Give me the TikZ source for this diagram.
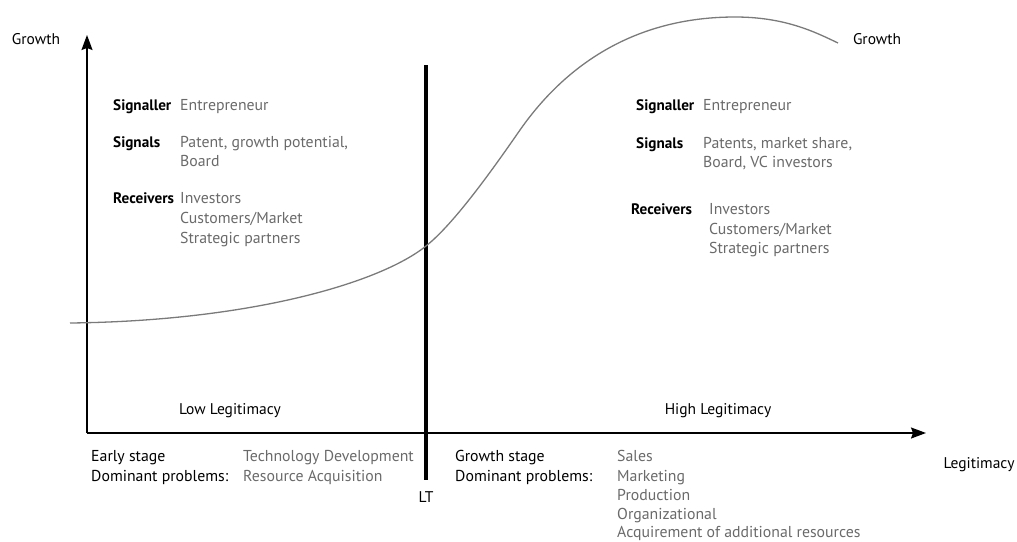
\documentclass[tikz,border=0pt]{standalone}
\usepackage{fontspec}
\setmainfont{PT Sans}
\usetikzlibrary{arrows.meta}
\definecolor{valgray}{HTML}{6A6A6A}
\definecolor{curvegray}{HTML}{7A7A7A}
\tikzset{
  lbl/.style={anchor=base west, inner sep=0pt, font=\fontsize{15.8}{18}\selectfont, text=black},
  blbl/.style={lbl, font=\fontsize{15.2}{18}\selectfont\bfseries},
  val/.style={lbl, text=valgray},
  ctr/.style={anchor=base, inner sep=0pt, font=\fontsize{15.5}{18}\selectfont},
  axis/.style={line width=1.6pt, -{Stealth[length=15pt,width=11pt,inset=2pt]}},
}
\begin{document}
\begin{tikzpicture}[x=1pt,y=-1pt]
\useasboundingbox (0,0) rectangle (1017,541);
% axes
\coordinate (O) at (87,433);
\coordinate (Ytop) at (87,35);
\coordinate (Xend) at (926,433);
\draw[axis] (O) -- (Ytop);
\draw[axis] (O) -- (Xend);
% LT line
\coordinate (LTtop) at (426,65);
\coordinate (LTbot) at (426,480);
\draw[line width=4.5pt] (LTtop) -- (LTbot);
\node[ctr] (LT) at (426,502) {LT};
% curve
\coordinate (c0) at (70,323);
\coordinate (c1) at (426,246);
\coordinate (c2) at (520,130);
\coordinate (c3) at (735,17);
\coordinate (c4) at (838,43);
\draw[curvegray, line width=1.3pt] (c0) .. controls (250,321) and (380,283) .. (c1)
  .. controls (455,223) and (495,166) .. (c2)
  .. controls (555,80) and (620,17) .. (c3)
  .. controls (785,17) and (815,32) .. (c4);
% axis labels
\node[ctr] (gL) at (36,44) {Growth};
\node[ctr] (gR) at (877,44) {Growth};
\node[ctr] (leg) at (979,468) {Legitimacy};
\node[ctr] (low) at (230,414) {Low Legitimacy};
\node[ctr] (high) at (718,414) {High Legitimacy};
% left block
\node[blbl] (sL) at (113,110) {Signaller};
\node[val] (sLv) at (180,110) {Entrepreneur};
\node[blbl] (gsL) at (113,147) {Signals};
\node[val] (gsLv1) at (180,147) {Patent, growth potential,};
\node[val] (gsLv2) at (180,166) {Board};
\node[blbl] (rL) at (113,203) {Receivers};
\node[val] (rLv1) at (180,203) {Investors};
\node[val] (rLv2) at (180,223) {Customers/Market};
\node[val] (rLv3) at (180,243) {Strategic partners};
% right block
\node[blbl] (sR) at (636,110) {Signaller};
\node[val] (sRv) at (703,110) {Entrepreneur};
\node[blbl] (gsR) at (636,148) {Signals};
\node[val] (gsRv1) at (703,148) {Patents, market share,};
\node[val] (gsRv2) at (703,167) {Board, VC investors};
\node[blbl] (rR) at (631,214) {Receivers};
\node[val] (rRv1) at (709,214) {Investors};
\node[val] (rRv2) at (709,234) {Customers/Market};
\node[val] (rRv3) at (709,253) {Strategic partners};
% bottom left
\node[lbl] (es) at (91,461) {Early stage};
\node[lbl] (dpL) at (91,481) {Dominant problems:};
\node[val] (td) at (243,461) {Technology Development};
\node[val] (ra) at (243,481) {Resource Acquisition};
% bottom right
\node[lbl] (gst) at (455,461) {Growth stage};
\node[lbl] (dpR) at (455,481) {Dominant problems:};
\node[val] (p1) at (617,461) {Sales};
\node[val] (p2) at (617,481) {Marketing};
\node[val] (p3) at (617,500) {Production};
\node[val] (p4) at (617,519) {Organizational};
\node[val] (p5) at (617,537) {Acquirement of additional resources};
\end{tikzpicture}
\end{document}
